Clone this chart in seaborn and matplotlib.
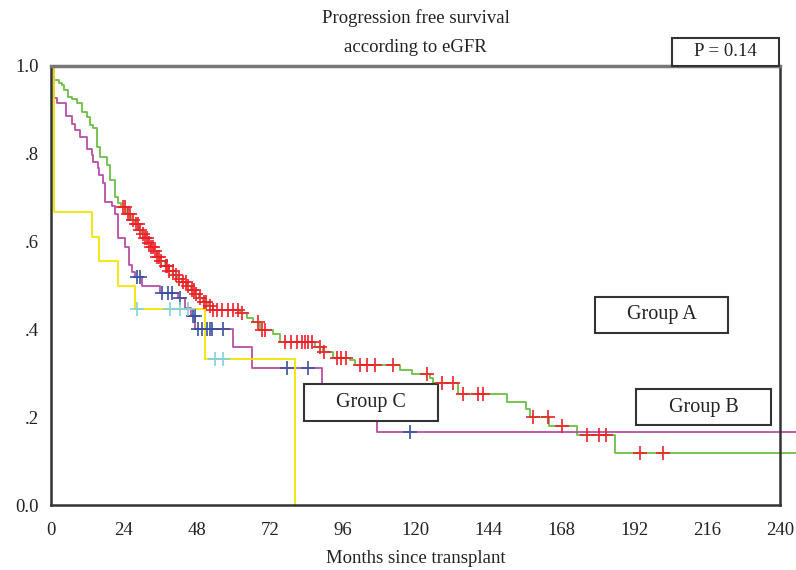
import numpy as np
import pandas as pd
import matplotlib
matplotlib.use("Agg")
import matplotlib.pyplot as plt
from matplotlib.patches import Rectangle
import seaborn as sns

# ---- data ----
green_t = [0, 1.0, 2.6, 3.6, 4.3, 5.6, 6.9, 8.6, 10.2, 11.9, 12.8, 13.8, 15.1, 16.1, 18.4, 19.4,
           21.1, 22.1, 23.0, 25.0, 26.3, 27.7, 29.0, 30.0, 30.9, 31.9, 32.9, 33.9, 34.9, 35.9, 37.5,
           38.8, 40.2, 41.5, 43.1, 44.8, 46.1, 47.4, 48.7, 50.0, 51.7, 53.3, 62.2, 64.5, 66.5, 68.8,
           73.1, 75.4, 86.9, 89.5, 92.8, 98.4, 100.1, 114.9, 118.8, 124.8, 125.8, 134.0, 150.1,
           156.4, 157.7, 164.0, 173.2, 185.7, 246]
green_s = [1.0, .968, .962, .957, .945, .930, .925, .916, .895, .884, .866, .859, .816, .793, .774,
           .740, .702, .688, .679, .662, .650, .640, .627, .617, .608, .597, .588, .579, .566, .556,
           .545, .533, .524, .515, .507, .499, .490, .481, .472, .463, .453, .444, .437, .426, .417,
           .399, .390, .371, .360, .349, .335, .330, .319, .308, .298, .289, .278, .253, .235, .219,
           .201, .180, .159, .118, .118]
green_cens = [23.7, 24.5, 25.5, 26.0, 27.0, 27.9, 28.5, 29.3, 30.2, 31.0, 31.5, 32.3, 33.0, 33.6,
              34.3, 35.0, 35.6, 36.3, 37.7, 38.3, 39.0, 40.0, 41.2, 42.0, 43.5, 44.4, 45.2, 46.5,
              47.0, 47.8, 49.0, 50.5, 51.0, 52.5, 53.3, 54.6, 56.3, 58.2, 59.9, 61.6, 63.0, 68.1,
              69.5, 70.5, 77.0, 79.0, 81.0, 82.5, 83.5, 84.5, 86.0, 88.5, 90.0, 94.0, 95.5, 97.0,
              101.7, 104.0, 106.7, 112.6, 123.8, 128.7, 132.3, 135.6, 140.6, 142.2, 158.7, 163.6,
              168.2, 176.5, 180.4, 182.7, 193.9, 201.5]

mag_t = [0, 1.0, 1.9, 4.9, 6.8, 7.9, 9.5, 11.8, 13.4, 13.9, 15.6, 15.9, 17.0, 17.9, 20.0, 21.0,
         22.0, 24.4, 25.7, 26.7, 27.7, 30.0, 35.9, 41.8, 44.1, 46.1, 47.4, 59.9, 66.2, 89.2, 107.3, 246]
mag_s = [1.0, .926, .915, .885, .869, .854, .839, .812, .797, .782, .767, .752, .733, .691, .680,
         .664, .608, .588, .547, .531, .519, .499, .483, .471, .449, .430, .401, .360, .312, .208,
         .167, .167]
mag_cens = [28.3, 29.2, 36.5, 38.5, 39.8, 42.5, 46.7, 47.3, 48.4, 49.7, 51.4, 52.3, 53.0, 56.6,
            77.7, 84.6, 118.2]

yel_t = [0, 1.0, 13.5, 15.8, 22.0, 27.7, 50.7, 80.3]
yel_s = [1.0, .667, .611, .556, .500, .446, .333, 0.0]
yel_cens = [28.3, 39.2, 42.5, 45.1, 54.0, 56.6]

x_ticks = [0, 24, 48, 72, 96, 120, 144, 168, 192, 216, 240]
y_ticks = [0.0, 0.2, 0.4, 0.6, 0.8, 1.0]
y_ticklabels = ["0.0", ".2", ".4", ".6", ".8", "1.0"]

# ---- style ----
sns.set_style("white")
plt.rcParams['font.family'] = ['Liberation Serif', 'DejaVu Serif']
FS = 13.5

fig = plt.figure(figsize=(7.96, 5.70), dpi=100)
ax = fig.add_axes([51/796, 1-505/570, (780-51)/796, (505-66)/570])

def step_value(times, surv, t):
    idx = np.searchsorted(times, t, side='right') - 1
    return np.asarray(surv)[idx]

curves = [
    (green_t, green_s, green_cens, "#6cbf45", "#ee1d25"),
    (mag_t, mag_s, mag_cens, "#b84fa6", "#3a4fa0"),
    (yel_t, yel_s, yel_cens, "#f2e500", "#7fd0e0"),
]
for t, s, cens, lc, mc in curves:
    df = pd.DataFrame({"t": t, "s": s})
    sns.lineplot(data=df, x="t", y="s", ax=ax, color=lc, lw=1.3,
                 drawstyle="steps-post", estimator=None, sort=False,
                 clip_on=False, zorder=2)
    cdf = pd.DataFrame({"t": cens, "s": step_value(t, s, cens)})
    sns.scatterplot(data=cdf, x="t", y="s", ax=ax, marker="+", s=90,
                    linewidth=1.4, color=mc, alpha=0.85, zorder=4, clip_on=False)

ax.set_xlim(0, 240)
ax.set_ylim(0, 1)
ax.set_xticks(x_ticks)
ax.set_xticklabels([str(v) for v in x_ticks], fontsize=FS)
ax.set_yticks(y_ticks)
ax.set_yticklabels(y_ticklabels, fontsize=FS)
ax.tick_params(axis='both', direction='out', length=6, width=1.5, color="#333333",
               labelcolor="#222222")
ax.tick_params(axis='x', pad=6)
ax.tick_params(axis='y', pad=3)
ax.set_xlabel("Months since transplant", fontsize=FS, color="#222222", labelpad=8)
ax.set_ylabel("")
for side in ["left", "bottom", "right"]:
    ax.spines[side].set_visible(True)
    ax.spines[side].set_color("#333333")
    ax.spines[side].set_linewidth(1.8)
ax.spines["top"].set_color("#777777")
ax.spines["top"].set_linewidth(2.5)

ax.set_title("Progression free survival\naccording to eGFR", fontsize=FS, color="#222222",
             pad=10, linespacing=1.95)

def box(x0, x1, y0, y1, label, zorder=3):
    ax.add_patch(Rectangle((x0, y0), x1 - x0, y1 - y0, facecolor="white",
                           edgecolor="#333333", lw=1.5, zorder=zorder, clip_on=False))
    ax.text((x0 + x1) / 2, (y0 + y1) / 2, label, ha="center", va="center",
            fontsize=FS + 1, color="#222222", zorder=zorder + 0.1, clip_on=False)

box(179.1, 222.9, 0.392, 0.474, "Group A")
box(83.3, 127.4, 0.191, 0.276, "Group C")
box(192.6, 237.0, 0.182, 0.264, "Group B")

# P-value box above the axes (axes-fraction coordinates)
ax.add_patch(Rectangle((0.852, 1.0), 0.1466, 0.0638, transform=ax.transAxes,
                       facecolor="white", edgecolor="#333333", lw=1.5, clip_on=False, zorder=3))
ax.text(0.925, 1.032, "P = 0.14", transform=ax.transAxes, ha="center", va="center",
        fontsize=FS, color="#222222", zorder=3.1)

fig.savefig("out.png", dpi=100)
